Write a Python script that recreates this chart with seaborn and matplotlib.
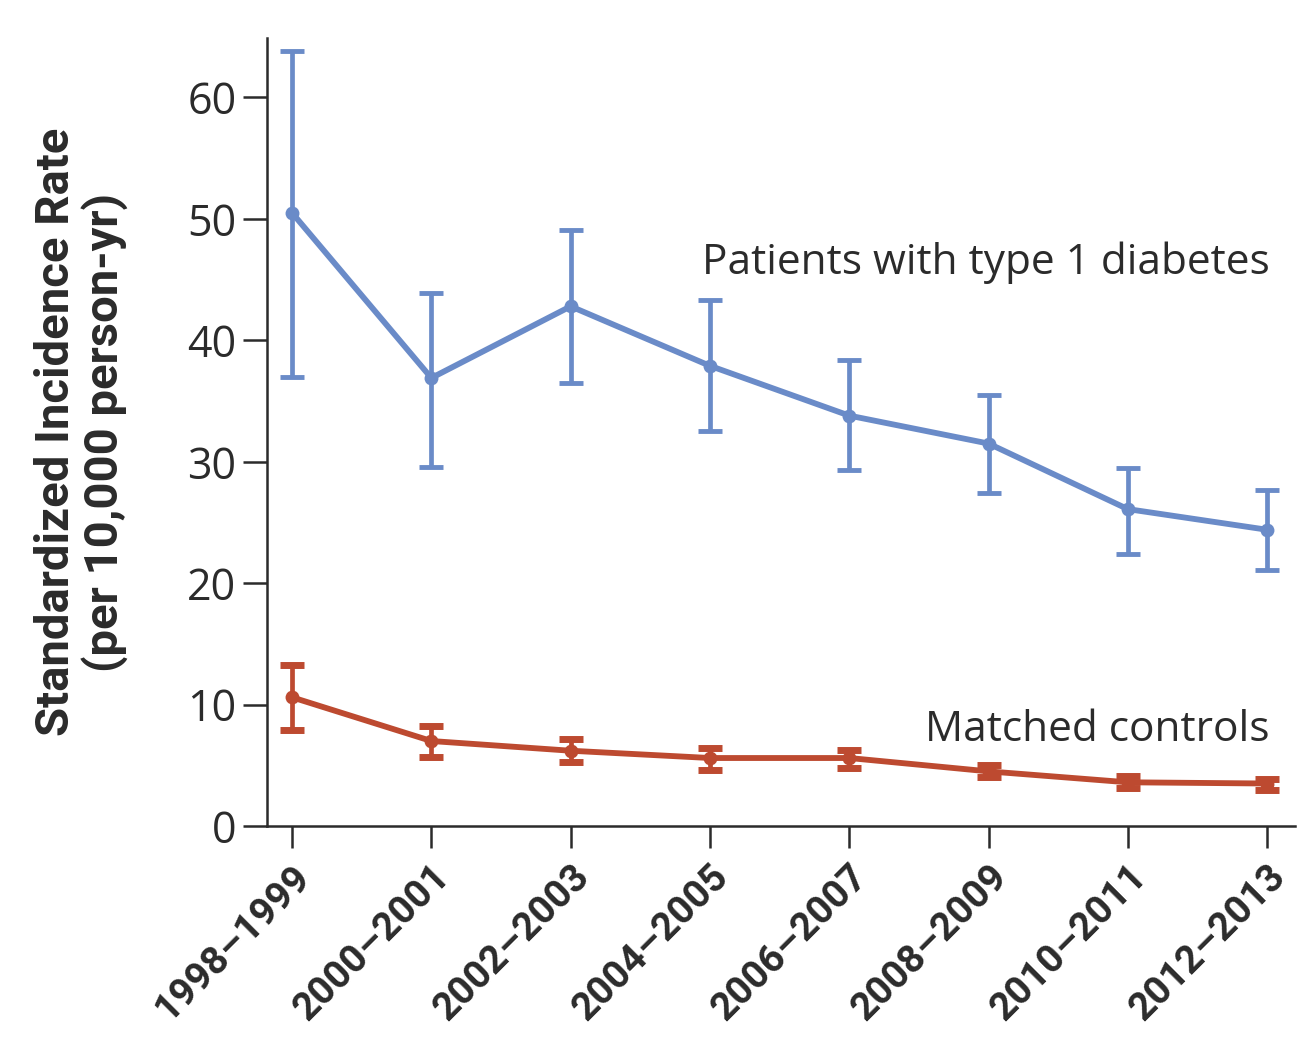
import matplotlib
matplotlib.use("Agg")
import matplotlib.pyplot as plt
import seaborn as sns
import numpy as np
import pandas as pd

# ==========================================
# Data
# ==========================================
periods = ['1998\u20131999', '2000\u20132001', '2002\u20132003', '2004\u20132005',
           '2006\u20132007', '2008\u20132009', '2010\u20132011', '2012\u20132013']

t1d_rate = [50.5, 36.9, 42.8, 37.9, 33.8, 31.5, 26.1, 24.4]
t1d_low = [37.0, 29.6, 36.5, 32.5, 29.3, 27.4, 22.4, 21.1]
t1d_high = [63.8, 43.9, 49.1, 43.3, 38.4, 35.5, 29.5, 27.7]

ctrl_rate = [10.6, 7.0, 6.2, 5.6, 5.6, 4.5, 3.6, 3.5]
ctrl_low = [7.9, 5.7, 5.3, 4.6, 4.8, 4.0, 3.1, 3.0]
ctrl_high = [13.3, 8.2, 7.2, 6.4, 6.3, 5.0, 4.1, 3.9]

y_ticks = [0, 10, 20, 30, 40, 50, 60]

blue = '#6a8bc8'
red = '#bd4a30'
dark = '#2b2b2b'

sns.set_style("white")
plt.rcParams['font.family'] = ['Open Sans', 'DejaVu Sans']
narrow = ['Roboto', 'DejaVu Sans']

idx = np.arange(len(periods))
df = pd.DataFrame({
    'idx': np.concatenate([idx, idx]),
    'rate': t1d_rate + ctrl_rate,
    'group': ['t1d'] * len(periods) + ['ctrl'] * len(periods),
})

fig = plt.figure(figsize=(13.12, 10.44), dpi=100)
ax = fig.add_axes([0.2035, 0.2088, 0.7835, 0.7548])

sns.lineplot(data=df, x='idx', y='rate', hue='group', palette={'t1d': blue, 'ctrl': red},
             linewidth=4.2, marker='o', markersize=10, markeredgewidth=0,
             legend=False, ax=ax)

# error bars
for rate, lo, hi, col, cthick in [(t1d_rate, t1d_low, t1d_high, blue, 3.5),
                                   (ctrl_rate, ctrl_low, ctrl_high, red, 5)]:
    rate = np.array(rate)
    yerr = np.vstack([rate - np.array(lo), np.array(hi) - rate])
    ax.errorbar(idx, rate, yerr=yerr, fmt='none', ecolor=col, elinewidth=3.4,
                capsize=8.5, capthick=cthick, zorder=3)

ax.text(7.02, 46.4, 'Patients with type 1 diabetes', ha='right', va='center',
        fontsize=30.5, color=dark)
ax.text(7.02, 7.9, 'Matched controls', ha='right', va='center',
        fontsize=30.5, color=dark)

ax.set_xlim(-0.18, 7.2)
ax.set_ylim(0, 64.9)
ax.set_xticks(idx)
ax.set_xticklabels(periods, rotation=45, ha='right', rotation_mode='anchor',
                   fontsize=28, fontweight='bold', color=dark, family=narrow)
ax.set_yticks(y_ticks)
ax.set_yticklabels([str(v) for v in y_ticks], fontsize=31, color=dark)
ax.tick_params(axis='y', direction='out', length=17, width=1.8, color=dark, pad=5, left=True)
ax.tick_params(axis='x', direction='out', length=16, width=1.8, color=dark, pad=7, bottom=True)

ax.set_xlabel('')
ax.set_ylabel('Standardized Incidence Rate\n(per 10,000 person-yr)', fontsize=34,
              fontweight='bold', color=dark, linespacing=1.1, family=narrow)
ax.yaxis.set_label_coords(-0.135, 0.5)

for side in ['top', 'right']:
    ax.spines[side].set_visible(False)
for side in ['left', 'bottom']:
    ax.spines[side].set_color(dark)
    ax.spines[side].set_linewidth(1.8)

fig.savefig('out.png', dpi=100)
